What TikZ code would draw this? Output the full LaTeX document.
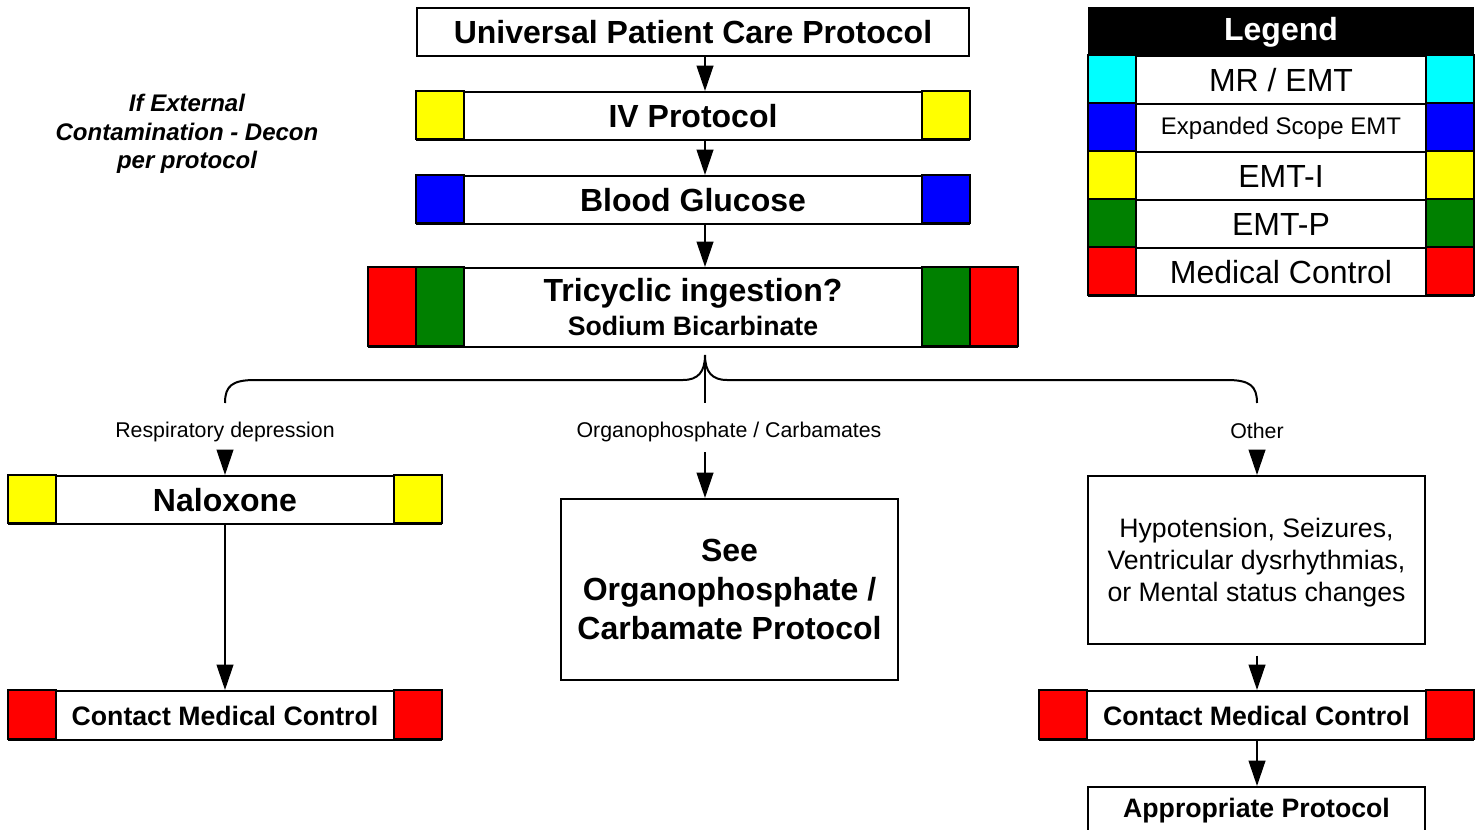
\documentclass[tikz,border=0pt]{standalone}
\usepackage{fontspec}
\setmainfont{Liberation Sans}
\usetikzlibrary{arrows.meta}
\definecolor{cy}{RGB}{0,255,255}
\definecolor{bl}{RGB}{0,0,255}
\definecolor{ye}{RGB}{255,255,0}
\definecolor{gr}{RGB}{0,128,0}
\definecolor{rd}{RGB}{255,0,0}
\begin{document}
\begin{tikzpicture}[x=0.75pt,y=-0.75pt,
  box/.style={draw, line width=1.5pt, fill=white, inner sep=0pt, align=center},
  big/.style={font=\fontsize{24}{29}\selectfont\bfseries},
  mid/.style={font=\fontsize{20}{24}\selectfont\bfseries},
  arr/.style={line width=1.5pt, -{Triangle[length=19pt,width=12.5pt]}},
  sq/.style={draw, line width=1.5pt},
  lab/.style={font=\fontsize{16}{19}\selectfont}]
\useasboundingbox (0,0) rectangle (1480,830);
\coordinate (ax) at (705,0);

% main column
\node[box, big, minimum width=414pt, minimum height=36pt] (uni) at (693,32) {Universal Patient Care Protocol};
\node[box, big, minimum width=414pt, minimum height=36pt] (iv) at (693,116) {IV Protocol};
\draw[sq, fill=ye] (iv.north west) rectangle ++(48,48);
\draw[sq, fill=ye] (iv.north east) rectangle ++(-48,48);
\node[box, big, minimum width=414pt, minimum height=36pt] (bg) at (693,200) {Blood Glucose};
\draw[sq, fill=bl] (bg.north west) rectangle ++(48,48);
\draw[sq, fill=bl] (bg.north east) rectangle ++(-48,48);
\node[box, font=\fontsize{20}{25.5}\selectfont\bfseries, minimum width=486pt, minimum height=59.25pt] (tri) at (693,307.5)
  {{\fontsize{24}{26}\selectfont Tricyclic ingestion?}\\Sodium Bicarbinate};
\draw[sq, fill=rd] (tri.north west) rectangle ++(48,79);
\draw[sq, fill=gr] (tri.north west) ++(48,0) rectangle ++(48,79);
\draw[sq, fill=rd] (tri.north east) rectangle ++(-48,79);
\draw[sq, fill=gr] (tri.north east) ++(-48,0) rectangle ++(-48,79);

\draw[arr] (uni.south -| ax) -- (iv.north -| ax);
\draw[arr] (iv.south -| ax) -- (bg.north -| ax);
\draw[arr] (bg.south -| ax) -- (tri.north -| ax);

% side note
\node[font=\fontsize{18}{21.4}\selectfont\bfseries\itshape, align=center] (ext) at (187,134)
  {If External\\Contamination - Decon\\per protocol};

% brace
\coordinate (bra) at (225,403);
\coordinate (brb) at (1257,403);
\coordinate (cusp) at (705,355);
\coordinate (bm) at (705,403);
\draw[line width=1.5pt] (bra) .. controls (225,386) and (232,380) .. (255,380) -- (683,380)
  .. controls (698,380) and (705,372) .. (cusp)
  .. controls (705,372) and (712,380) .. (727,380) -- (1227,380)
  .. controls (1250,380) and (1257,386) .. (brb);
\draw[line width=1.5pt] (cusp) -- (bm);

\node[lab] (l1) at (225,432) {Respiratory depression};
\node[lab] (l2) at (729,432) {Organophosphate / Carbamates};
\node[lab] (l3) at (1257,431) {Other};

% left branch
\node[box, big, minimum width=324pt, minimum height=36pt] (nal) at (225,500) {Naloxone};
\draw[sq, fill=ye] (nal.north west) rectangle ++(48,48);
\draw[sq, fill=ye] (nal.north east) rectangle ++(-48,48);
\node[box, mid, minimum width=324pt, minimum height=36.75pt] (cmcl) at (225,715.5) {Contact Medical Control};
\draw[sq, fill=rd] (cmcl.north west) rectangle ++(48,49);
\draw[sq, fill=rd] (cmcl.north east) rectangle ++(-48,49);
\coordinate (s1) at (225,450);
\draw[arr] (s1) -- (nal.north);
\draw[arr] (nal.south) -- (cmcl.north);

% middle branch
\node[box, font=\fontsize{24}{29}\selectfont\bfseries, minimum width=252.75pt, minimum height=135.75pt] (see) at (729.5,589.5)
  {See\\Organophosphate /\\Carbamate Protocol};
\coordinate (s2) at (705,452);
\draw[arr] (s2) -- (see.north -| s2);

% right branch
\node[box, font=\fontsize{20}{24}\selectfont, minimum width=252.75pt, minimum height=126pt, text depth=0pt] (hyp) at (1256.5,560)
  {Hypotension, Seizures,\\Ventricular dysrhythmias,\\or Mental status changes};
\node[box, mid, minimum width=324.75pt, minimum height=36.75pt] (cmcr) at (1256.5,715.5) {Contact Medical Control};
\draw[sq, fill=rd] (cmcr.north west) rectangle ++(48,49);
\draw[sq, fill=rd] (cmcr.north east) rectangle ++(-48,49);
\node[box, mid, minimum width=252.75pt, minimum height=36pt] (app) at (1256.5,811) {\raisebox{-2pt}{Appropriate Protocol}};
\coordinate (s3) at (1257,450);
\draw[arr] (s3) -- (hyp.north -| s3);
\draw[arr, shorten <=8pt] (hyp.south -| s3) -- (cmcr.north -| s3);
\draw[arr] (cmcr.south -| s3) -- (app.north -| s3);

% legend
\node[draw, line width=1.5pt, fill=black, text=white, big, minimum width=288pt, minimum height=36pt, inner sep=0pt] (lg) at (1281,32) {Legend};
\node[box, font=\fontsize{24}{28}\selectfont, minimum width=288pt, minimum height=36pt] (r1) at (1281,80) {MR / EMT};
\draw[sq, fill=cy] (r1.north west) rectangle ++(48,48);
\draw[sq, fill=cy] (r1.north east) rectangle ++(-48,48);
\node[box, font=\fontsize{18}{21}\selectfont, minimum width=288pt, minimum height=36pt] (r2) at (1281,128) {Expanded Scope EMT};
\draw[sq, fill=bl] (r2.north west) rectangle ++(48,48);
\draw[sq, fill=bl] (r2.north east) rectangle ++(-48,48);
\node[box, font=\fontsize{24}{28}\selectfont, minimum width=288pt, minimum height=36pt] (r3) at (1281,176) {EMT-I};
\draw[sq, fill=ye] (r3.north west) rectangle ++(48,48);
\draw[sq, fill=ye] (r3.north east) rectangle ++(-48,48);
\node[box, font=\fontsize{24}{28}\selectfont, minimum width=288pt, minimum height=36pt] (r4) at (1281,224) {EMT-P};
\draw[sq, fill=gr] (r4.north west) rectangle ++(48,48);
\draw[sq, fill=gr] (r4.north east) rectangle ++(-48,48);
\node[box, font=\fontsize{24}{28}\selectfont, minimum width=288pt, minimum height=36pt] (r5) at (1281,272) {Medical Control};
\draw[sq, fill=rd] (r5.north west) rectangle ++(48,48);
\draw[sq, fill=rd] (r5.north east) rectangle ++(-48,48);
\end{tikzpicture}
\end{document}
